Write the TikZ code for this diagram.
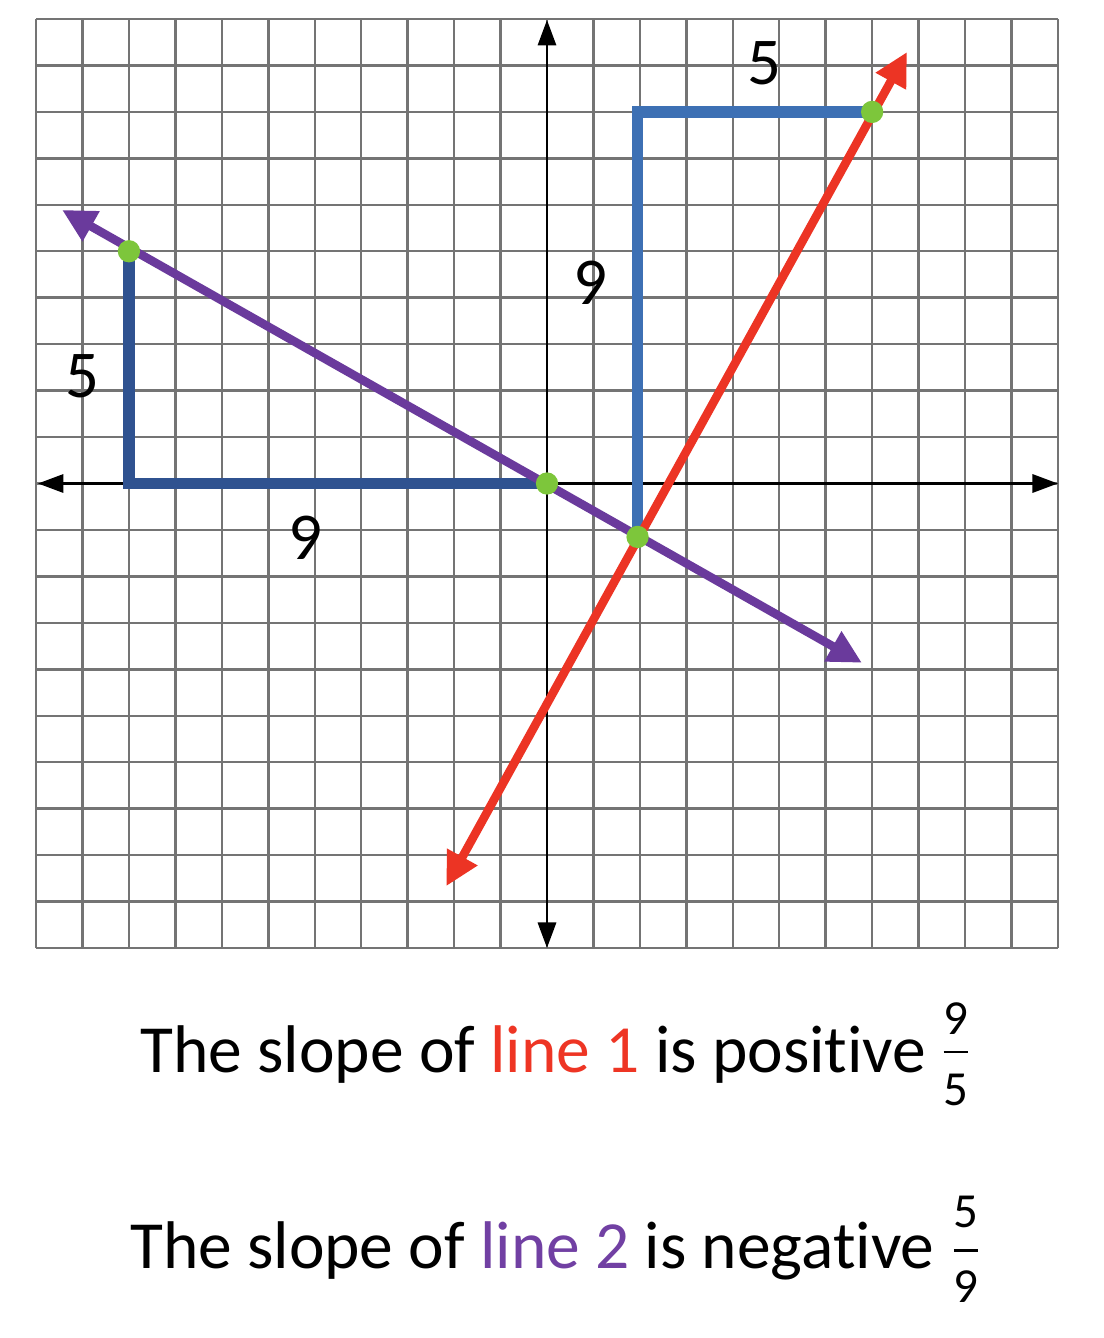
\documentclass[tikz,border=0pt]{standalone}
\usepackage{fontspec}
\setmainfont{Carlito}[Ligatures=NoCommon]
\usetikzlibrary{arrows.meta}
\definecolor{redline}{HTML}{EC3424}
\definecolor{purpleline}{HTML}{6A3A9C}
\definecolor{blueA}{HTML}{2F5290}
\definecolor{blueB}{HTML}{3D70B4}
\definecolor{dotgreen}{HTML}{7DC63B}
\definecolor{gridgray}{HTML}{747474}
\definecolor{txtred}{HTML}{EE3524}
\definecolor{txtpurple}{HTML}{7140A3}
\begin{document}
\begin{tikzpicture}[x=1cm,y=1cm,
 gridline/.style={draw=gridgray, line width=1.5pt},
 axisline/.style={draw=black, line width=1.8pt, {Triangle[length=0.55cm,width=0.39cm]}-{Triangle[length=0.55cm,width=0.39cm]}},
 slopeline/.style={line width=0.185cm, {Triangle[length=0.72cm,width=0.7cm]}-{Triangle[length=0.72cm,width=0.7cm]}},
 runrise/.style={line width=0.25cm, line join=miter},
 dot/.style={circle, fill=dotgreen, inner sep=0pt, minimum size=0.48cm},
 lbl/.style={font=\fontsize{41}{48}\selectfont, inner sep=0pt},
 caption/.style={font=\fontsize{41.3}{50}\selectfont, inner sep=0pt, anchor=base west},
 fracnum/.style={font=\fontsize{30}{34}\selectfont, inner sep=0pt},
 fracbar/.style={draw=black, line width=1.7pt},
]
\useasboundingbox (-11.776,-18.396) rectangle (11.991,10.409);
\fill[white] (-11.776,-18.396) rectangle (11.991,10.409);

% grid
\draw[gridline] (-11,-10) grid (11,10);

% axes
\coordinate (xl) at (-10.96,0);
\coordinate (xr) at (11.0,0);
\coordinate (yb) at (0,-10.0);
\coordinate (yt) at (0,9.98);
\draw[axisline] (xl) -- (xr);
\draw[axisline] (yb) -- (yt);

% points
\coordinate (P1) at (-9,5);
\coordinate (C1) at (-9,0);
\coordinate (O) at (0,0);
\coordinate (Q1) at (1.95,-1.15);
\coordinate (C2) at (1.95,8);
\coordinate (Q2) at (7,8);

% run/rise
\draw[runrise, draw=blueA] (P1) -- (C1) -- (O);
\draw[runrise, draw=blueB] (Q1) -- (C2) -- (Q2);

% line 2 (purple)
\coordinate (pa) at (-10.44,5.89);
\coordinate (pb) at (6.78,-3.86);
\draw[slopeline, draw=purpleline, fill=purpleline] (pa) -- (pb);

% line 1 (red)
\coordinate (ra) at (-2.17,-8.67);
\coordinate (rb) at (7.75,9.29);
\draw[slopeline, draw=redline, fill=redline] (ra) -- (rb);

% dots
\node[dot] (d1) at (P1) {};
\node[dot] (d2) at (O) {};
\node[dot] (d3) at (Q1) {};
\node[dot] (d4) at (Q2) {};

% labels
\node[lbl] (l5top) at (4.69,9.05) {5};
\node[lbl] (l9mid) at (0.93,4.32) {9};
\node[lbl] (l5left) at (-9.99,2.31) {5};
\node[lbl] (l9bot) at (-5.21,-1.17) {9};

% captions
\node[caption] (t1) at (-8.76,-12.67) {The slope of \textcolor{txtred}{line 1} is positive};
\node[caption] (t2) at (-8.98,-16.89) {The slope of \textcolor{txtpurple}{line 2} is negative};

% fractions
\node[fracnum] (f1n) at (8.8,-11.52) {9};
\node[fracnum] (f1d) at (8.8,-13.06) {5};
\coordinate (f1a) at (8.54,-12.24);
\coordinate (f1b) at (9.06,-12.24);
\draw[fracbar] (f1a) -- (f1b);

\node[fracnum] (f2n) at (9.02,-15.68) {5};
\node[fracnum] (f2d) at (9.02,-17.30) {9};
\coordinate (f2a) at (8.76,-16.52);
\coordinate (f2b) at (9.28,-16.52);
\draw[fracbar] (f2a) -- (f2b);
\end{tikzpicture}
\end{document}
